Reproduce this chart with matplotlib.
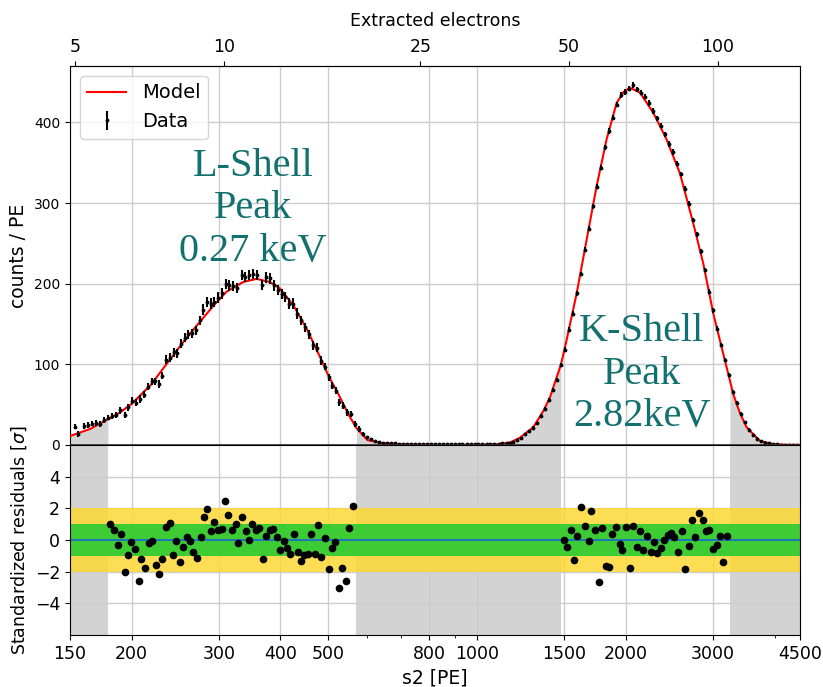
import matplotlib
matplotlib.use("Agg")
import matplotlib.pyplot as plt
import numpy as np
from matplotlib.ticker import FixedLocator, FixedFormatter, NullFormatter, NullLocator

GAIN = 30.7  # PE per extracted electron (top axis)

# fitted model curve
model_s2 = [150, 165, 179, 189, 200, 219, 233, 256, 275, 294, 311, 336, 358, 381, 399,
            425, 452, 481, 500, 528, 550, 570, 600, 640, 700, 800, 1000, 1100, 1165,
            1221, 1299, 1361, 1404, 1478, 1517, 1590, 1665, 1745, 1828, 1915, 1980,
            2038, 2135, 2272, 2417, 2572, 2737, 2868, 3005, 3148, 3247, 3298, 3400,
            3509, 3734, 3974, 4200, 4500]
model_counts = [11, 20, 32, 40, 51, 75, 97, 130, 153, 174, 190, 202, 206, 202, 194,
                173, 144, 109, 86, 59, 37, 21, 6, 2.5, 0.8, 0.3, 0.3, 1, 3,
                9, 22, 42, 59, 100, 130, 188, 254, 321, 379, 424, 438,
                443, 437, 412, 379, 337, 275, 225, 163, 113, 80, 63, 40,
                22, 5, 1, 0.3, 0.1]

# data: L-shell region
l_s2 = [153.3, 155.5, 160.1, 163.1, 166.2, 169.6, 172.8, 175.7, 179.0, 182.7, 186.1,
        189.6, 193.5, 196.8, 200.6, 204.3, 208.2, 211.7, 215.7, 219.8, 223.2, 226.7,
        230.6, 234.2, 238.6, 243.5, 247.3, 252.0, 255.9, 260.3, 264.8, 269.4, 274.4,
        278.8, 283.9, 289.7, 293.4, 299.4, 304.5, 310.2, 315.1, 321.0, 327.1, 333.7,
        339.5, 345.9, 352.4, 359.0, 366.3, 373.8, 380.8, 388.6, 395.9, 402.1, 409.0,
        416.7, 424.6, 432.6, 440.7, 448.3, 456.7, 466.0, 474.8, 483.0, 492.1, 500.6,
        509.2, 518.1, 526.2, 536.1, 546.2, 555.6, 566.0, 576.7]
l_counts = [22.9, 13.3, 23.7, 24.5, 26.6, 27.0, 25.7, 30.7, 34.0, 36.1, 37.4,
            43.2, 37.4, 46.5, 54.8, 52.3, 57.0, 62.3, 72.3, 78.9, 78.9, 75.6,
            86.0, 105.5, 108.0, 115.0, 113.8, 125.5, 133.0, 137.0, 138.7, 142.0, 154.5,
            167.8, 177.3, 175.3, 177.0, 182.8, 187.9, 199.8, 197.8, 197.0, 194.5, 210.6,
            208.6, 210.6, 211.8, 210.6, 198.2, 207.8, 206.5, 197.8, 191.9, 187.0, 183.6,
            175.3, 175.3, 162.9, 154.5, 146.2, 137.0, 123.4, 120.5, 104.7, 97.2, 83.9,
            73.5, 67.3, 52.7, 48.6, 40.3, 38.2, 25.7, 19.6]
l_err = [3.5, 3.5, 3.5, 3.5, 3.5, 3.5, 3.5, 3.5, 3.5, 3.5, 3.5,
         4.5, 3.5, 4.5, 4.5, 4.5, 4.5, 4.5, 4.5, 4.5, 4.5, 4.5,
         4.5, 5.5, 5.5, 5.5, 5.5, 5.5, 5.5, 5.5, 5.5, 5.5, 5.5,
         6.5, 6.5, 6.5, 6.5, 6.5, 6.5, 6.5, 6.5, 6.5, 6.5, 6.5,
         6.5, 6.5, 6.5, 6.5, 6.5, 6.5, 6.5, 6.5, 6.5, 6.5, 6.5,
         6.5, 6.5, 6.5, 5.5, 5.5, 5.5, 5.5, 5.5, 5.5, 4.5, 4.5,
         4.5, 4.5, 4.5, 4.5, 4.5, 3.5, 3.5, 3.5]

# data: between the peaks
f_s2 = [587, 598, 609, 621, 632, 644, 656, 669, 681, 694, 707, 720, 734, 748, 762,
        776, 790, 805, 820, 836, 851, 867, 884, 900, 917, 934, 952, 970, 988, 1006,
        1025, 1045, 1064, 1084, 1105, 1125, 1147, 1168]
f_counts = [13.5, 9.5, 7, 5, 4, 3, 2.5, 2, 2, 1.5, 1.5, 1.2, 1.5, 1, 1.2,
            1, 1.3, 1, 1, 1.2, 1, 1, 1.2, 1, 1, 1.2, 1, 1, 1.2, 1,
            1.3, 1, 1.2, 1.5, 1.5, 2, 2.5, 3]
f_err = [2.5, 2, 2, 1.5, 1.5, 1.2, 1.2, 1, 1, 1, 1, 1, 1, 1, 1,
         1, 1, 1, 1, 1, 1, 1, 1, 1, 1, 1, 1, 1, 1, 1,
         1, 1, 1, 1, 1, 1, 1, 1]

# data: K-shell region
k_s2 = [1180, 1202, 1225, 1248, 1271, 1295, 1320, 1345, 1370, 1396, 1422, 1449, 1476,
        1504, 1532, 1561, 1590, 1620, 1651, 1682, 1713, 1746, 1778, 1812, 1846, 1881,
        1916, 1952, 1989, 2026, 2064, 2103, 2143, 2183, 2224, 2266, 2308, 2352, 2396,
        2441, 2487, 2534, 2581, 2630, 2679, 2730, 2781, 2833, 2887, 2941, 2996, 3053,
        3110, 3169, 3228, 3289, 3351, 3414, 3478, 3543, 3610, 3678, 3747, 3817, 3889,
        3962, 4037, 4113, 4190, 4269, 4349, 4431]
k_counts = [4, 6, 9, 13, 17, 21, 27, 36, 45, 56, 68, 81, 99,
            118, 143, 163, 188, 212, 242, 268, 296, 320, 344, 369, 389, 406,
            422, 434, 438, 442, 446, 441, 437, 432, 424, 414, 405, 396, 385,
            373, 363, 349, 336, 318, 299, 279, 261, 240, 217, 190, 167, 144,
            124, 105, 87, 66, 52, 39, 28, 19, 12, 8, 5, 3, 2,
            1, 1, 0.5, 0.5, 0.3, 0.3, 0.3]
k_err = [1.5, 1.5, 1.5, 2, 2, 2, 2, 2, 2.5, 2.5, 2.5, 2.5, 2.5,
         3, 3, 3, 3, 3, 3, 3, 3, 3, 3, 3.5, 3.5, 3.5,
         3.5, 3.5, 3.5, 3.5, 3.5, 3.5, 3.5, 3.5, 3.5, 3.5, 3.5, 3.5, 3.5,
         3.5, 3.5, 3.5, 3, 3, 3, 3, 3, 3, 3, 3, 3, 3,
         2.5, 2.5, 2.5, 2.5, 2, 2, 2, 2, 1.5, 1.5, 1.5, 1.5, 1,
         1, 1, 1, 1, 1, 1, 1]

# standardized residuals, L-shell fit window
rl_s2 = [180.7, 184.1, 187.6, 189.9, 193.5, 196.8, 199.3, 203.1, 206.6, 209.1, 213.1,
         216.4, 219.5, 223.6, 227.4, 230.6, 234.2, 239.0, 242.0, 246.2, 250.4, 253.9,
         258.3, 262.8, 266.5, 271.1, 275.7, 279.6, 284.4, 289.3, 293.4, 298.5, 304.1,
         308.3, 313.2, 318.6, 324.6, 328.6, 334.3, 340.6, 344.8, 350.8, 357.4, 362.4,
         368.6, 374.4, 380.3, 386.8, 393.5, 398.4, 405.9, 412.9, 418.7, 425.9, 433.3,
         439.4, 446.9, 454.6, 461.0, 469.0, 477.1, 483.8, 492.1, 500.6, 507.6, 516.4,
         525.3, 532.7, 541.9, 551.2, 560.7]
rl_res = [1.03, 0.65, -0.32, 0.39, -2.02, -0.92, -0.13, -0.58, -2.58, -1.18, -1.78,
          -0.22, -0.04, -1.55, -2.15, -1.18, 0.82, 1.10, -0.92, -0.09, -1.38, -0.45,
          0.17, -0.09, -0.73, -1.12, 0.17, 1.44, 1.98, 0.54, 1.14, 0.65, 0.71,
          2.47, 1.55, 0.65, 1.01, -0.22, 1.44, 0.54, 0.02, 1.03, 0.60, 0.77,
          -1.23, 0.22, 0.60, 0.71, 0.17, -0.62, -0.06, -0.52, -0.86, 0.39, -0.73,
          -1.35, -0.92, -0.88, 0.39, -0.88, 0.95, -1.05, 0.11, -1.83, -0.52, -0.15,
          -3.05, -1.78, -2.58, 0.77, 2.15]

# standardized residuals, K-shell fit window
rk_s2 = [1498.5, 1519.6, 1545.8, 1572.5, 1594.6, 1622.1, 1650.0, 1681.0, 1702.0, 1734.1,
         1764.0, 1786.0, 1819.6, 1851.0, 1874.1, 1909.4, 1942.2, 1966.5, 2000.3, 2038.0,
         2066.7, 2102.3, 2138.5, 2168.6, 2206.0, 2244.1, 2275.6, 2314.9, 2354.7, 2387.8,
         2429.0, 2470.9, 2505.7, 2548.9, 2592.8, 2629.2, 2678.7, 2724.8, 2758.9, 2806.5,
         2859.3, 2908.6, 2949.5, 2995.7, 3052.0, 3094.9, 3143.4, 3202.3]
rk_res = [0.0, -0.45, 0.65, -1.25, 0.22, 2.11, 0.88, -0.09, 1.81, 0.65,
          -2.65, 0.75, -1.66, -1.72, 0.39, 0.82, -0.28, -0.62, 0.82, -1.78,
          0.88, -0.45, 0.58, -0.62, 0.22, -0.75, -0.13, -0.82, -0.52, 0.0,
          0.32, 0.47, 0.17, -0.75, 0.54, -1.85, -0.39, 1.25, 0.17, 1.70,
          1.25, 0.58, 0.65, -0.58, -0.34, 0.28, -1.42, 0.22]

# ranges excluded from the fit
excluded = [(150, 179), (570, 1478), (3247, 4500)]

x_major = [150, 200, 300, 400, 500, 800, 1000, 1500, 2000, 3000, 4500]
x_minor = [600, 700, 900, 4000]
top_ticks = [5, 10, 25, 50, 100]

data_s2 = l_s2 + f_s2 + k_s2
data_counts = l_counts + f_counts + k_counts
data_err = l_err + f_err + k_err

GRID = "#cccccc"
GRAY = "#d3d3d3"
TEAL = "#12706f"

fig = plt.figure(figsize=(8.23, 6.87), dpi=100)
ax1 = fig.add_axes([0.085, 0.3523, 0.887, 0.5517])
ax2 = fig.add_axes([0.085, 0.0757, 0.887, 0.2766], sharex=ax1)

# --- upper panel: spectrum + model
ms2 = np.array(model_s2, dtype=float)
mcnt = np.array(model_counts, dtype=float)
for lo, hi in excluded:
    m = (ms2 >= lo) & (ms2 <= hi)
    ax1.fill_between(ms2[m], 0, mcnt[m], color=GRAY, lw=0, zorder=0.3)
ax1.plot(model_s2, model_counts, color="red", lw=1.5, label="Model", zorder=3)
ax1.errorbar(data_s2, data_counts, yerr=data_err, fmt=".", color="black", ms=3.5,
             elinewidth=1.5, capsize=0, label="Data", zorder=4)
ax1.axhline(0, color="#333333", lw=1.2, zorder=5)
ax1.set_xscale("log")
ax1.set_xlim(150, 4500)
ax1.set_ylim(0, 470)
ax1.set_yticks([0, 100, 200, 300, 400])
ax1.set_axisbelow(True)
ax1.grid(color=GRID, lw=1)
ax1.tick_params(axis="y", labelsize=10)
ax1.tick_params(axis="x", which="both", bottom=False, labelbottom=False)
ax1.set_ylabel("counts / PE", fontsize=13.5)
ax1.legend(loc="upper left", fontsize=14, framealpha=0.8)

ax1.text(352, 293, "L-Shell\nPeak\n0.27 keV", ha="center", va="center", fontsize=29,
         family="Liberation Serif", color=TEAL, linespacing=1.2)
ax1.text(2155, 88, "K-Shell\nPeak\n2.82keV", ha="center", va="center", fontsize=29,
         family="Liberation Serif", color=TEAL, linespacing=1.2)

sec = ax1.secondary_xaxis("top", functions=(lambda x: np.asarray(x) / GAIN,
                                            lambda x: np.asarray(x) * GAIN))
sec.xaxis.set_major_locator(FixedLocator(top_ticks))
sec.xaxis.set_major_formatter(FixedFormatter([str(t) for t in top_ticks]))
sec.xaxis.set_minor_locator(NullLocator())
sec.tick_params(labelsize=12.5)
sec.set_xlabel("Extracted electrons", fontsize=12.5, labelpad=9)

# --- lower panel: residuals
for lo, hi in excluded:
    ax2.axvspan(lo, hi, color=GRAY, lw=0, zorder=0.2)
ax2.axhspan(-2, 2, color="#fdd835", alpha=0.85, lw=0, zorder=1)
ax2.axhspan(-1, 1, color="#33cc33", alpha=0.95, lw=0, zorder=1.1)
ax2.axhline(0, color="#1f77b4", lw=1.5, zorder=2)
ax2.plot(rl_s2 + rk_s2, rl_res + rk_res, "o", color="black", ms=4.5, zorder=3)
ax2.set_ylim(-6, 6)
ax2.set_yticks([-4, -2, 0, 2, 4])
ax2.set_axisbelow(True)
ax2.grid(color=GRID, lw=1)
ax2.xaxis.set_major_locator(FixedLocator(x_major))
ax2.xaxis.set_major_formatter(FixedFormatter([str(t) for t in x_major]))
ax2.xaxis.set_minor_locator(FixedLocator(x_minor))
ax2.xaxis.set_minor_formatter(NullFormatter())
ax2.tick_params(labelsize=12.5)
ax2.set_xlabel("s2 [PE]", fontsize=13.5)
ax2.set_ylabel(r"Standardized residuals [$\sigma$]", fontsize=12.5)

fig.savefig("out.png", dpi=100)
